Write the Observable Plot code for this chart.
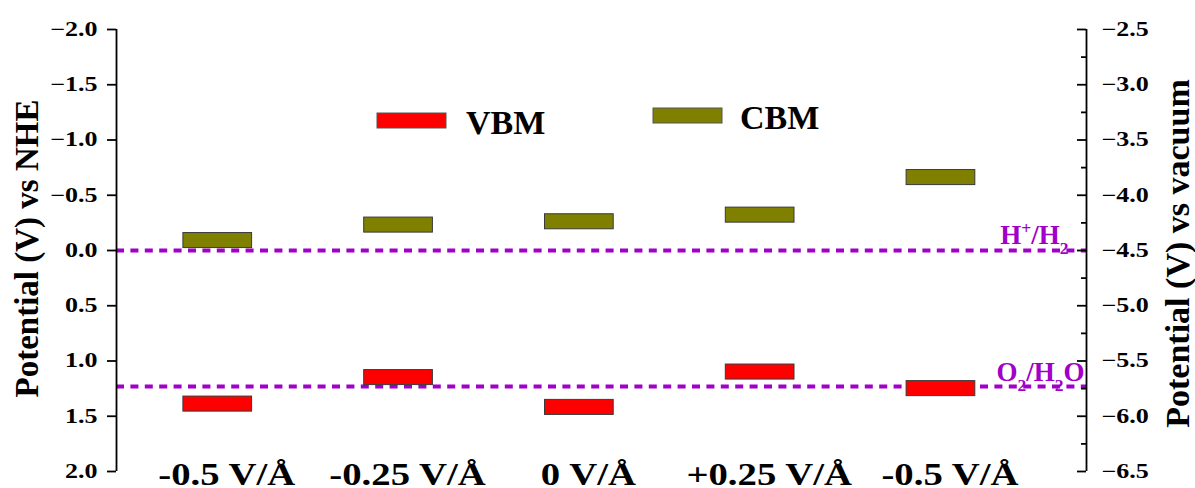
<!DOCTYPE html>
<html>
<head>
<meta charset="utf-8">
<script src="https://cdn.jsdelivr.net/npm/d3@7"></script>
<script src="https://cdn.jsdelivr.net/npm/@observablehq/plot@0.6"></script>
<style>
  body { margin: 0; background: #fff; }
  #chart { width: 1195px; height: 488px; }
</style>
</head>
<body>
<div id="chart"></div>
<script>
// Electric field applied to the slab (one column per case)
const fields = ["-0.5 V/Å", "-0.25 V/Å", "0 V/Å", "+0.25 V/Å", "-0.5 V/Å"];
// Band-edge potentials vs NHE (V)
const vbm = [1.39, 1.15, 1.42, 1.10, 1.25];
const cbm = [-0.09, -0.23, -0.26, -0.32, -0.66];
// Water redox levels vs NHE (V)
const redoxLabels = ["H^+/H_2", "O_2/H_2O"];
const redoxPotentials = [0, 1.23];
// Axis ticks
const nheTicks = [-2.0, -1.5, -1.0, -0.5, 0.0, 0.5, 1.0, 1.5, 2.0];
const vacuumTicks = [-2.5, -3.0, -3.5, -4.0, -4.5, -5.0, -5.5, -6.0, -6.5];
const vacuumMinorTicks = [-2.75, -3.25, -3.75, -4.25, -4.75, -5.25, -5.75, -6.25];

// E(vacuum) = -4.5 - E(NHE)
const VACUUM_SHIFT = -4.5;
const toNhe = (v) => VACUUM_SHIFT - v;

const W = 1195, H = 488;
const M = {left: 116, right: 109, top: 29, bottom: 17};
const frameW = W - M.left - M.right;
const X_DOMAIN = [-0.56, 4.805];
const BAR_HALF_W = 0.19;   // half bar width, in column units
const BAR_HALF_H = 0.068;  // half bar height, in volts
const violet = "#A000C8";
const fmt = d3.format(".1f");

const bands = fields.flatMap((f, i) => [
  {i, band: "VBM", v: vbm[i]},
  {i, band: "CBM", v: cbm[i]}
]);
const colors = {VBM: "#FF0000", CBM: "#808000"};

const chart = Plot.plot({
  width: W, height: H,
  marginLeft: M.left, marginRight: M.right, marginTop: M.top, marginBottom: M.bottom,
  x: {type: "linear", domain: X_DOMAIN, axis: null},
  y: {domain: [-2, 2], reverse: true},
  style: {
    fontFamily: "'Liberation Serif', 'Times New Roman', serif",
    fontWeight: "bold",
    background: "#fff",
    color: "#000",
    overflow: "visible"
  },
  marks: [
    // redox reference levels
    Plot.ruleY(redoxPotentials, {stroke: violet, strokeWidth: 4, strokeDasharray: "8 6.4"}),
    // band edges
    Plot.rect(bands, {
      x1: (d) => d.i - BAR_HALF_W, x2: (d) => d.i + BAR_HALF_W,
      y1: (d) => d.v - BAR_HALF_H, y2: (d) => d.v + BAR_HALF_H,
      fill: (d) => colors[d.band], stroke: "#3a3a3a", strokeWidth: 1
    }),
    // left axis (vs NHE)
    Plot.ruleX([X_DOMAIN[0]], {stroke: "#000", strokeWidth: 1.8}),
    Plot.axisY(nheTicks, {
      anchor: "left", tickSize: 9, tickPadding: 10, strokeWidth: 1.8,
      tickFormat: fmt, fontSize: 20, label: null, className: "ticklab"
    }),
    Plot.text(["Potential (V) vs NHE"], {
      frameAnchor: "left", textAnchor: "middle", lineAnchor: "middle",
      rotate: -90, dx: -89, dy: -2, fontSize: 33
    }),
    // right axis (vs vacuum), ticks pointing inward
    Plot.ruleX([X_DOMAIN[1]], {stroke: "#000", strokeWidth: 1.8}),
    Plot.ruleY(vacuumTicks.map(toNhe), {insetLeft: frameW - 9, stroke: "#000", strokeWidth: 1.8}),
    Plot.ruleY(vacuumMinorTicks.map(toNhe), {insetLeft: frameW - 5, stroke: "#000", strokeWidth: 1.8}),
    Plot.axisY(vacuumTicks.map(toNhe), {
      anchor: "right", tickSize: 0, tickPadding: 15,
      tickFormat: (d) => fmt(toNhe(d)), fontSize: 20, label: null, className: "ticklab"
    }),
    Plot.text(["Potential (V) vs vacuum"], {
      frameAnchor: "right", textAnchor: "middle", lineAnchor: "middle",
      rotate: -90, dx: 92, dy: 3, fontSize: 34
    }),
    // column labels
    Plot.text(fields, {
      x: (d, i) => i, frameAnchor: "bottom", lineAnchor: "middle",
      dx: 9, dy: 4, fontSize: 31, className: "fieldlab"
    }),
    // redox level labels
    Plot.text([redoxLabels[0]], {
      y: [redoxPotentials[0]], frameAnchor: "right", textAnchor: "end",
      dx: -18, dy: -15, fontSize: 27, fill: violet, className: "redox"
    }),
    Plot.text([redoxLabels[1]], {
      y: [redoxPotentials[1]], frameAnchor: "right", textAnchor: "end",
      dx: -2, dy: -14, fontSize: 27, fill: violet, className: "redox"
    })
  ]
});

// widen the serif numerals of tick and column labels
const stretch = (sel, k) => chart.querySelectorAll(sel).forEach((t) => {
  t.setAttribute("transform", (t.getAttribute("transform") || "") + ` scale(${k},1)`);
});
stretch(".ticklab text", 1.3);
stretch(".fieldlab text", 1.25);

// superscripts / subscripts in the redox labels
chart.querySelectorAll(".redox text").forEach((t) => {
  const s = t.textContent;
  t.textContent = "";
  const re = /([\^_])(.)|([^\^_]+)/g;
  let m;
  while ((m = re.exec(s))) {
    const ts = document.createElementNS("http://www.w3.org/2000/svg", "tspan");
    if (m[3]) { ts.textContent = m[3]; }
    else {
      ts.textContent = m[2];
      ts.setAttribute("baseline-shift", m[1] === "^" ? "super" : "sub");
      ts.setAttribute("font-size", "65%");
    }
    t.appendChild(ts);
  }
});

// legend
const svg = d3.select(chart);
const legend = svg.append("g").attr("font-size", 34).attr("font-weight", "bold")
  .attr("text-anchor", "start");
[
  {band: "VBM", x: 377, y: 113, tx: 466, ty: 134},
  {band: "CBM", x: 653, y: 108, tx: 740, ty: 129}
].forEach((k) => {
  legend.append("rect").attr("x", k.x).attr("y", k.y).attr("width", 69).attr("height", 15)
    .attr("fill", colors[k.band]).attr("stroke", "#555").attr("stroke-width", 1);
  legend.append("text").attr("x", k.tx).attr("y", k.ty).attr("fill", "#000").text(k.band);
});

document.getElementById("chart").appendChild(chart);
</script>
</body>
</html>
